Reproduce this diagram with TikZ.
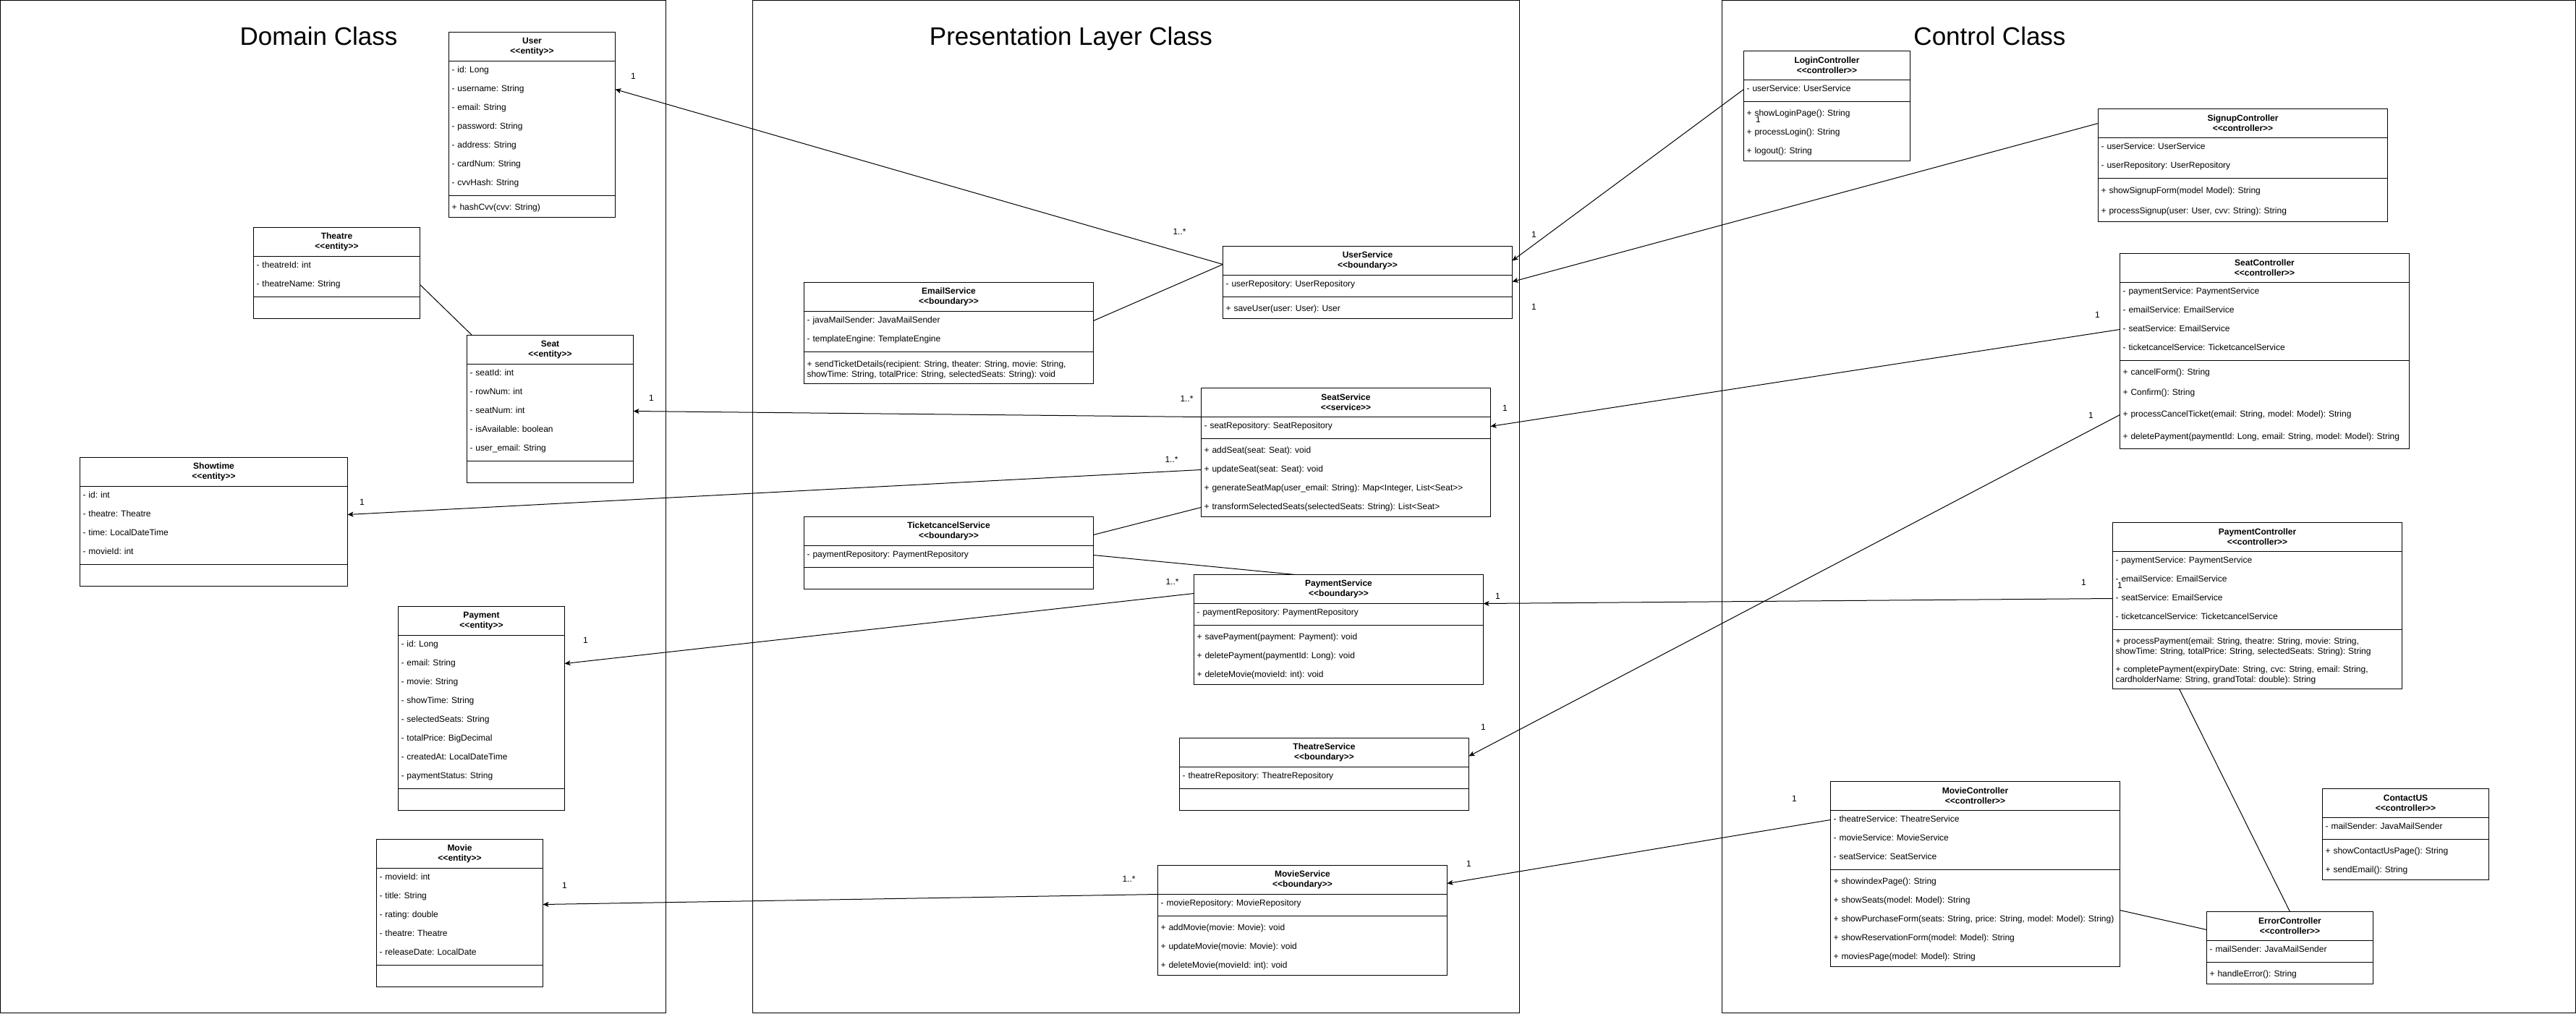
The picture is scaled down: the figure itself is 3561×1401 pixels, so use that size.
\documentclass[tikz,border=0pt]{standalone}
\usepackage{fontspec}
\setmainfont{Liberation Sans}
\usetikzlibrary{arrows.meta}

% stereotype with a kern so that << and >> stay two characters
\newcommand\umlst[1]{<\kern0pt<#1>\kern0pt>}

% name, x, y, width, header, attributes, height/method pairs
\newcommand\umlclass[7]{%
  \pgfmathsetmacro\tw{#4-8}
  \node[head, minimum width=#4pt] (#1-h) at (#2,#3) {#5};
  \pgfmathsetmacro\cury{#3+40}\global\let\cury\cury
  \foreach \t [count=\i] in {#6}{
    \node[row, text width=\tw pt] (#1-\i) at (#2,\cury+13) {\strut\t};
    \pgfmathsetmacro\cury{\cury+26}\global\let\cury\cury
  }
  \draw (#2,#3+40) -- ++(#4,0) (#2,\cury+4) -- ++(#4,0);
  \pgfmathsetmacro\cury{\cury+8}\global\let\cury\cury
  \foreach \h/\t [count=\j] in {#7}{
    \node[row, text width=\tw pt, minimum height=\h pt] (#1-m\j) at (#2,\cury+\h/2) {\strut\t};
    \pgfmathsetmacro\cury{\cury+\h}\global\let\cury\cury
  }
  \draw (#2,#3) rectangle (#2+#4,\cury);
}

\begin{document}
\begin{tikzpicture}[x=1pt, y=-1pt, line width=1pt,
    panel/.style={draw, anchor=north west, inner sep=0pt, outer sep=0pt},
    title/.style={font=\fontsize{35}{42}\selectfont, anchor=base},
    head/.style={anchor=north west, minimum height=40pt, inner sep=0pt, outer sep=0pt,
      align=center, font=\fontsize{12}{14}\selectfont\bfseries},
    row/.style={anchor=west, inner xsep=4pt, inner ysep=0pt, outer sep=0pt,
      minimum height=26pt, align=left, font=\fontsize{12}{14}\selectfont\frenchspacing},
    mult/.style={inner sep=0pt, font=\fontsize{12}{14}\selectfont},
    assoc/.style={-{Stealth[length=8pt,width=7pt,inset=2pt]}}]
  \useasboundingbox (-0.5,-0.5) rectangle (3560.5,1400.5);

  \node[panel, minimum width=920pt, minimum height=1400pt] (domain) at (0,0) {};
  \node[panel, minimum width=1060pt, minimum height=1400pt] (present) at (1040,0) {};
  \node[panel, minimum width=1180pt, minimum height=1400pt] (control) at (2380,0) {};
  \node[title] (tdomain) at (440,62) {Domain Class};
  \node[title] (tpresent) at (1480,62) {Presentation Layer Class};
  \node[title] (tcontrol) at (2750,62) {Control Class};

  % domain classes
  \umlclass{user}{620}{44}{230}{User\\\umlst{entity}}
    {- id: Long, - username: String, - email: String, - password: String,
     - address: String, - cardNum: String, - cvvHash: String}
    {26/{+ hashCvv(cvv: String)}}
  \umlclass{theatre}{350}{314}{230}{Theatre\\\umlst{entity}}
    {- theatreId: int, - theatreName: String}{26/{}}
  \umlclass{seat}{645}{463}{230}{Seat\\\umlst{entity}}
    {- seatId: int, - rowNum: int, - seatNum: int, - isAvailable: boolean,
     - user\_email: String}{26/{}}
  \umlclass{show}{110}{632}{370}{Showtime\\\umlst{entity}}
    {- id: int, - theatre: Theatre, - time: LocalDateTime, - movieId: int}{26/{}}
  \umlclass{pay}{550}{838}{230}{Payment\\\umlst{entity}}
    {- id: Long, - email: String, - movie: String, - showTime: String,
     - selectedSeats: String, - totalPrice: BigDecimal, - createdAt: LocalDateTime,
     - paymentStatus: String}{26/{}}
  \umlclass{movie}{520}{1160}{230}{Movie\\\umlst{entity}}
    {- movieId: int, - title: String, - rating: double, - theatre: Theatre,
     - releaseDate: LocalDate}{26/{}}

  % presentation layer classes
  \umlclass{usvc}{1690}{340}{400}{UserService\\\umlst{boundary}}
    {- userRepository: UserRepository}{26/{+ saveUser(user: User): User}}
  \umlclass{email}{1111}{390}{400}{EmailService\\\umlst{boundary}}
    {- javaMailSender: JavaMailSender, - templateEngine: TemplateEngine}
    {40/{+ sendTicketDetails(recipient: String, theater: String, movie: String,\\showTime: String, totalPrice: String, selectedSeats: String): void}}
  \umlclass{ssvc}{1660}{536}{400}{SeatService\\\umlst{service}}
    {- seatRepository: SeatRepository}
    {26/{+ addSeat(seat: Seat): void}, 26/{+ updateSeat(seat: Seat): void},
     26/{+ generateSeatMap(user\_email: String): Map<Integer, List<Seat>\kern0pt>},
     26/{+ transformSelectedSeats(selectedSeats: String): List<Seat>}}
  \umlclass{tcs}{1111}{714}{400}{TicketcancelService\\\umlst{boundary}}
    {- paymentRepository: PaymentRepository}{26/{}}
  \umlclass{psvc}{1650}{794}{400}{PaymentService\\\umlst{boundary}}
    {- paymentRepository: PaymentRepository}
    {26/{+ savePayment(payment: Payment): void}, 26/{+ deletePayment(paymentId: Long): void},
     26/{+ deleteMovie(movieId: int): void}}
  \umlclass{tsvc}{1630}{1020}{400}{TheatreService\\\umlst{boundary}}
    {- theatreRepository: TheatreRepository}{26/{}}
  \umlclass{msvc}{1600}{1196}{400}{MovieService\\\umlst{boundary}}
    {- movieRepository: MovieRepository}
    {26/{+ addMovie(movie: Movie): void}, 26/{+ updateMovie(movie: Movie): void},
     26/{+ deleteMovie(movieId: int): void}}

  % control classes
  \umlclass{login}{2410}{70}{230}{LoginController\\\umlst{controller}}
    {- userService: UserService}
    {26/{+ showLoginPage(): String}, 26/{+ processLogin(): String}, 26/{+ logout(): String}}
  \umlclass{signup}{2900}{150}{400}{SignupController\\\umlst{controller}}
    {- userService: UserService, - userRepository: UserRepository}
    {28/{+ showSignupForm(model Model): String}, 28/{+ processSignup(user: User, cvv: String): String}}
  \umlclass{seatc}{2930}{350}{400}{SeatController\\\umlst{controller}}
    {- paymentService: PaymentService, - emailService: EmailService,
     - seatService: EmailService, - ticketcancelService: TicketcancelService}
    {26/{+ cancelForm(): String}, 30/{+ Confirm(): String},
     30/{+ processCancelTicket(email: String, model: Model): String},
     32/{+ deletePayment(paymentId: Long, email: String, model: Model): String}}
  \umlclass{payc}{2920}{722}{400}{PaymentController\\\umlst{controller}}
    {- paymentService: PaymentService, - emailService: EmailService,
     - seatService: EmailService, - ticketcancelService: TicketcancelService}
    {39/{+ processPayment(email: String, theatre: String, movie: String,\\showTime: String, totalPrice: String, selectedSeats: String): String},
     39/{+ completePayment(expiryDate: String, cvc: String, email: String,\\cardholderName: String, grandTotal: double): String}}
  \umlclass{moviec}{2530}{1080}{400}{MovieController\\\umlst{controller}}
    {- theatreService: TheatreService, - movieService: MovieService, - seatService: SeatService}
    {26/{+ showindexPage(): String}, 26/{+ showSeats(model: Model): String},
     26/{+ showPurchaseForm(seats: String, price: String, model: Model): String)},
     26/{+ showReservationForm(model: Model): String}, 26/{+ moviesPage(model: Model): String}}
  \umlclass{errc}{3050}{1260}{230}{ErrorController\\\umlst{controller}}
    {- mailSender: JavaMailSender}{26/{+ handleError(): String}}
  \umlclass{contact}{3210}{1090}{230}{ContactUS\\\umlst{controller}}
    {- mailSender: JavaMailSender}{26/{+ showContactUsPage(): String}, 26/{+ sendEmail(): String}}

  % associations
  \draw[assoc] ([yshift=-5pt]usvc-h.west) -- (user-2.east);
  \draw (email-1.east) -- ([yshift=-5pt]usvc-h.west);
  \draw[assoc] (ssvc-1.north west) -- (seat-3.east);
  \draw[assoc] (ssvc-m2.west) -- (show-2.east);
  \draw ([yshift=-5pt]tcs-h.east) -- (ssvc-m4.west);
  \draw (tcs-1.east) -- ([xshift=-60pt]psvc-h.north);
  \draw[assoc] ([yshift=-6pt]psvc-h.west) -- (pay-2.east);
  \draw[assoc] (msvc-1.north west) -- ([yshift=-11pt]movie-2.east);
  \draw (theatre-2.east) -- ([xshift=7pt]seat-h.north west);
  \draw[assoc] (login-1.west) -- (usvc-h.east);
  \draw[assoc] (signup-h.west) -- ([yshift=4pt]usvc-1.east);
  \draw[assoc] (seatc-3.west) -- (ssvc-1.east);
  \draw[assoc] (seatc-m3.west) -- ([yshift=-5pt]tsvc-h.east);
  \draw[assoc] (payc-3.west) -- (psvc-1.north east);
  \draw[assoc] (moviec-1.west) -- ([yshift=-5pt]msvc-h.east);
  \draw ([xshift=-108pt]payc-m2.south) -- (errc-h.north);
  \draw (moviec-m2.south east) -- ([yshift=-5pt]errc-h.west);

  % multiplicities
  \node[mult] (n-user) at (875,105) {1};
  \node[mult] (n-usvc) at (1630,320) {1..*};
  \node[mult] (n-seat) at (900,550) {1};
  \node[mult] (n-ssvc) at (1640,551) {1..*};
  \node[mult] (n-show) at (500,694) {1};
  \node[mult] (n-ssvc2) at (1619,635) {1..*};
  \node[mult] (n-pay) at (809,885) {1};
  \node[mult] (n-psvc) at (1620,804) {1..*};
  \node[mult] (n-movie) at (780,1224) {1};
  \node[mult] (n-msvc) at (1560,1215) {1..*};
  \node[mult] (n-login) at (2430,165) {1};
  \node[mult] (n-usvc2) at (2120,324) {1};
  \node[mult] (n-usvc3) at (2120,424) {1};
  \node[mult] (n-seatc) at (2899,435) {1};
  \node[mult] (n-ssvc3) at (2080,564) {1};
  \node[mult] (n-seatc2) at (2890,574) {1};
  \node[mult] (n-tsvc) at (2050,1005) {1};
  \node[mult] (n-payc) at (2880,805) {1};
  \node[mult] (n-payc2) at (2930,809) {1};
  \node[mult] (n-psvc2) at (2070,824) {1};
  \node[mult] (n-moviec) at (2480,1104) {1};
  \node[mult] (n-msvc2) at (2030,1194) {1};
\end{tikzpicture}
\end{document}
